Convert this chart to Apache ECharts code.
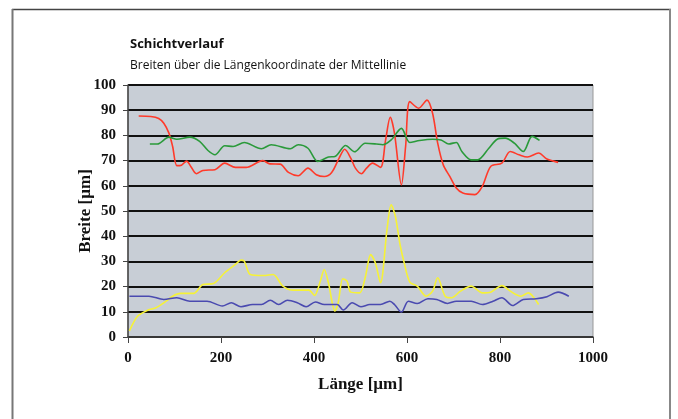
<!DOCTYPE html>
<html><head><meta charset="utf-8">
<script src="https://cdn.jsdelivr.net/npm/echarts@6/dist/echarts.min.js"></script>
<style>html,body{margin:0;padding:0;background:#fff}#c{width:678px;height:419px}</style>
</head><body><div id="c"></div>
<script>
const titleText = 'Schichtverlauf';
const subtitleText = 'Breiten über die Längenkoordinate der Mittellinie';
const xAxisName = 'Länge [µm]';
const yAxisName = 'Breite [µm]';
const xTicks = [0, 200, 400, 600, 800, 1000];
const yTicks = [0, 10, 20, 30, 40, 50, 60, 70, 80, 90, 100];

const redData = [[23,87.7],[49,87.5],[66,86.7],[77,84.8],[88,80.9],[96,75.6],[105,68],[115,68.2],[126,69.8],[135,67.7],[147,64.8],[161,66.1],[187,66.4],[208,69],[231,67.3],[254,67.3],[290,70],[305,68.7],[327,68.6],[345,65.3],[366,64],[387,67],[405,64.4],[422,63.7],[438,65.3],[454,71],[466,74.5],[479,71],[489,67],[502,64.8],[513,67],[526,69],[543,67.3],[554,78.2],[564,87.2],[573,80.9],[588,60.4],[597,75.6],[606,93.4],[625,90.8],[643,94],[655,88.8],[666,76.9],[678,68.3],[692,63.7],[706,59.1],[720,57.1],[746,56.5],[762,59.8],[780,67.7],[804,69],[822,73.6],[841,72.3],[859,71.4],[883,73],[901,70.6],[925,69.3]];
const greenData = [[47,76.6],[63,76.6],[88,79.3],[105,78.5],[133,79.3],[154,77.6],[172,74],[187,72.3],[208,75.9],[226,75.6],[250,77.2],[287,74.7],[308,76.3],[349,74.7],[366,76.3],[387,74.9],[408,69.7],[431,71.4],[445,71.6],[468,76],[487,73.5],[510,76.9],[534,76.6],[548,76.3],[566,78.2],[588,82.8],[606,77.2],[627,78],[655,78.5],[673,78.2],[690,76.6],[706,77.2],[718,73.6],[738,70.3],[752,70.3],[776,74.9],[794,78.5],[811,78.9],[831,76.9],[850,73.6],[869,79.6],[885,78]];
const yellowData = [[3,2.4],[21,8.3],[43,10.7],[59,11.5],[82,14.2],[96,16.2],[113,17.3],[141,17.3],[161,20.8],[184,21.2],[208,25.5],[231,28.8],[243,30.5],[250,30.1],[263,24.8],[291,24.4],[312,24.8],[333,20.2],[356,18.6],[389,18.6],[401,16.5],[413,21.8],[422,26.8],[431,21.5],[445,10.3],[452,13.6],[462,23.1],[471,22.2],[479,17.8],[498,17.5],[510,23.5],[522,32.7],[532,29.4],[543,21.5],[557,42.6],[566,52.5],[575,47.9],[585,36.7],[594,29.4],[606,21.8],[622,20.2],[641,16.2],[655,18.2],[666,23.5],[682,16.2],[696,15.6],[715,18.2],[738,20.2],[762,17.5],[780,17.8],[804,20.4],[822,18.2],[845,16.2],[861,17.5],[873,15.6],[883,12.9]];
const blueData = [[3,16.2],[45,16.2],[77,14.9],[105,15.6],[133,14.2],[170,14.2],[203,12.3],[222,13.6],[243,12],[268,12.9],[287,12.9],[306,14.6],[324,12.9],[343,14.6],[364,13.6],[383,12],[403,13.9],[422,12.9],[450,12.9],[463,10.7],[482,13.6],[501,12],[520,12.9],[543,12.9],[563,14.2],[573,12.9],[588,9.9],[603,14.2],[622,13.3],[645,15.2],[664,14.9],[687,13.3],[706,14.2],[738,14.2],[762,12.9],[785,14.2],[804,15.6],[827,12.5],[850,14.9],[878,15.2],[901,16],[925,17.8],[948,16.2]];

const chart = echarts.init(document.getElementById('c'), null, {renderer: 'canvas'});
const serifBold = {fontFamily: 'Liberation Serif', fontWeight: 'bold', color: '#111'};
function line(data, color) {
  return {type: 'line', data: data, smooth: 0.3, symbol: 'none',
    lineStyle: {color: color, width: 1.6}, animation: false};
}
chart.setOption({
  animation: false,
  title: [
    {text: titleText, left: 130, top: 38, padding: 0, textStyle: {fontFamily: 'Open Sans', fontSize: 13, fontWeight: 'bold', color: '#111'}},
    {text: subtitleText, left: 130, top: 60, padding: 0, textStyle: {fontFamily: 'Open Sans', fontSize: 12, fontWeight: 'normal', color: '#111'}}
  ],
  graphic: [
    {type: 'line', shape: {x1: 12, y1: 9.5, x2: 671, y2: 9.5}, style: {stroke: '#444', lineWidth: 1.5}},
    {type: 'line', shape: {x1: 12.5, y1: 9, x2: 12.5, y2: 419}, style: {stroke: '#777', lineWidth: 2}},
    {type: 'line', shape: {x1: 670, y1: 9, x2: 670, y2: 419}, style: {stroke: '#888', lineWidth: 2}}
  ],
  grid: {left: 128, right: 85, top: 85, bottom: 82, show: true, backgroundColor: '#c8ced6', borderColor: '#999', borderWidth: 1},
  xAxis: {type: 'value', min: 0, max: 1000, interval: 200,
    name: xAxisName, nameLocation: 'middle', nameGap: 39,
    nameTextStyle: Object.assign({fontSize: 17}, serifBold),
    axisLine: {show: true, onZero: false, lineStyle: {color: '#444', width: 1.5}},
    axisTick: {show: true, length: 6, lineStyle: {color: '#444'}},
    axisLabel: Object.assign({fontSize: 15, margin: 14, formatter: v => xTicks.includes(v) ? String(v) : ''}, serifBold),
    splitLine: {show: false}},
  yAxis: {type: 'value', min: 0, max: 100, interval: 10,
    name: yAxisName, nameLocation: 'middle', nameGap: 34, nameRotate: 90, nameMoveOverlap: false,
    nameTextStyle: Object.assign({fontSize: 17}, serifBold),
    axisLine: {show: true, lineStyle: {color: '#444', width: 1.5}},
    axisTick: {show: true, length: 5, lineStyle: {color: '#444'}},
    axisLabel: Object.assign({fontSize: 15, margin: 12, formatter: v => yTicks.includes(v) ? String(v) : ''}, serifBold),
    splitLine: {show: true, lineStyle: {color: '#111', width: 2}}},
  series: [
    line(redData, '#ff3a2a'),
    line(greenData, '#2a9a3a'),
    line(yellowData, '#f6f236'),
    line(blueData, '#4a4ab0')
  ]
});
</script></body></html>
